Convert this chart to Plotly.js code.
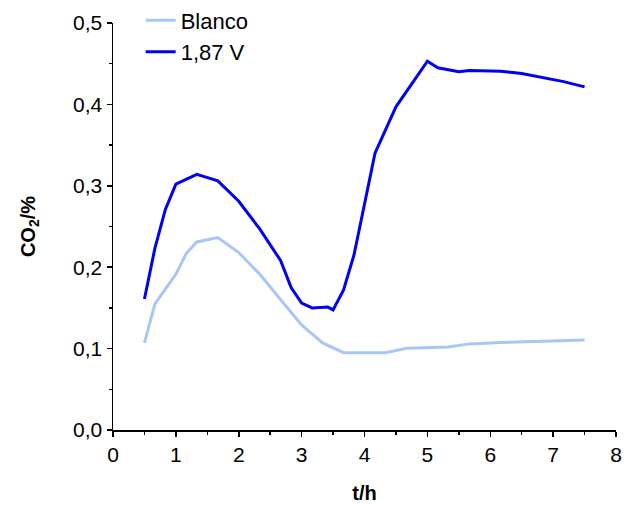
<!DOCTYPE html>
<html>
<head>
<meta charset="utf-8">
<script src="https://cdn.plot.ly/plotly-3.0.1.min.js"></script>
<style>html,body{margin:0;padding:0;background:#fff;}#chart{width:624px;height:506px;}</style>
</head>
<body>
<div id="chart"></div>
<script>
var blancoT = [0.5, 0.667, 1.0, 1.167, 1.333, 1.667, 2.0, 2.333, 2.667, 3.0, 3.333, 3.667, 4.333, 4.667, 5.333, 5.667, 6.167, 7.5];
var blancoV = [0.107, 0.155, 0.1915, 0.217, 0.231, 0.2365, 0.218, 0.1915, 0.160, 0.129, 0.107, 0.095, 0.095, 0.1005, 0.102, 0.1058, 0.1074, 0.1107];

var voltT = [0.5, 0.667, 0.833, 1.0, 1.333, 1.667, 2.0, 2.333, 2.667, 2.833, 3.0, 3.167, 3.417, 3.5, 3.667, 3.833, 4.167, 4.5, 5.0, 5.167, 5.5, 5.667, 6.167, 6.5, 7.167, 7.5];
var voltV = [0.161, 0.2235, 0.271, 0.302, 0.314, 0.306, 0.281, 0.247, 0.208, 0.175, 0.156, 0.150, 0.151, 0.1476, 0.172, 0.215, 0.340, 0.397, 0.453, 0.445, 0.440, 0.4416, 0.4407, 0.438, 0.428, 0.4215];

var seriesNames = ['Blanco', '1,87 V'];

var font = 'Liberation Sans, Arial, sans-serif';

var traces = [
  {x: blancoT, y: blancoV, name: seriesNames[0], type: 'scatter', mode: 'lines',
   line: {color: '#A9C7F6', width: 3}},
  {x: voltT, y: voltV, name: seriesNames[1], type: 'scatter', mode: 'lines',
   line: {color: '#0000F2', width: 3}}
];

var layout = {
  width: 624, height: 506,
  margin: {l: 113, r: 8, t: 23, b: 76, autoexpand: false},
  paper_bgcolor: '#fff', plot_bgcolor: '#fff',
  separators: ',.',
  font: {family: font, size: 21, color: '#000'},
  showlegend: true,
  legend: {x: 0.055, y: 1.058, xanchor: 'left', yanchor: 'top', bgcolor: 'rgba(0,0,0,0)',
           font: {family: font, size: 22, color: '#000'}, tracegroupgap: 0},
  xaxis: {
    range: [0, 8], tickmode: 'linear', tick0: 0, dtick: 1,
    showline: true, linecolor: '#000', linewidth: 1.5, mirror: false,
    showgrid: false, zeroline: false,
    ticks: 'outside', ticklen: 5, tickwidth: 1.5, tickcolor: '#000',
    minor: {dtick: 0.5, ticks: 'outside', ticklen: 3, tickwidth: 1.5, tickcolor: '#000', showgrid: false},
    tickfont: {family: font, size: 21, color: '#000'},
    title: {text: '<b>t/h</b>', font: {family: font, size: 20, color: '#000'}, standoff: 21}
  },
  yaxis: {
    range: [0, 0.5], tickmode: 'linear', tick0: 0, dtick: 0.1, tickformat: '.1f',
    showline: true, linecolor: '#000', linewidth: 1.5, mirror: false,
    showgrid: false, zeroline: false,
    ticks: 'outside', ticklen: 5, tickwidth: 1.5, tickcolor: '#000',
    minor: {dtick: 0.05, ticks: 'outside', ticklen: 3, tickwidth: 1.5, tickcolor: '#000', showgrid: false},
    tickfont: {family: font, size: 21, color: '#000'},
    title: {text: '<b>CO<sub>2</sub>/%</b>', font: {family: font, size: 20, color: '#000'}, standoff: 32}
  }
};

Plotly.newPlot('chart', traces, layout, {displayModeBar: false, staticPlot: true});
</script>
</body>
</html>
